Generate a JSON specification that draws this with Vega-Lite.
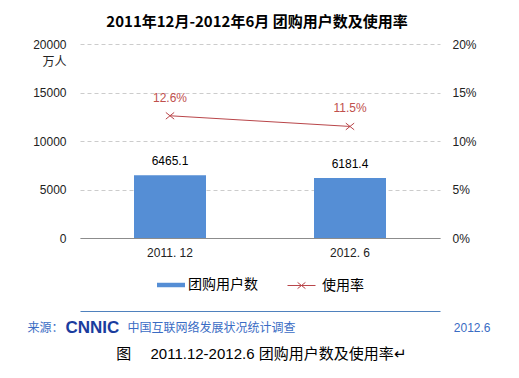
{
  "$schema": "https://vega.github.io/schema/vega-lite/v6.json",
  "width": 360,
  "height": 194,
  "autosize": {"type": "none"},
  "padding": {"left": 80, "top": 44, "right": 79, "bottom": 140},
  "background": "white",
  "title": {
    "text": "2011年12月-2012年6月 团购用户数及使用率",
    "font": "Noto Sans CJK SC",
    "fontSize": 15,
    "fontWeight": "bold",
    "color": "#000000",
    "anchor": "middle",
    "offset": 8,
    "dx": -3
  },
  "config": {
    "view": {"stroke": null},
    "axis": {"labelColor": "#222222", "titleColor": "#222222"}
  },
  "data": {
    "values": [
      {"period": "2011. 12", "users": 6465.1, "rate": 0.126},
      {"period": "2012. 6", "users": 6181.4, "rate": 0.115}
    ]
  },
  "layer": [
    {
      "mark": {"type": "bar"},
      "encoding": {
        "x": {
          "field": "period", "type": "nominal", "sort": null,
          "scale": {"paddingInner": 0.6, "paddingOuter": 0.3},
          "axis": {
            "orient": "bottom", "labelAngle": 0, "labelFont": "Liberation Sans", "labelFontSize": 12,
            "labelPadding": 9, "ticks": false, "domain": true, "domainColor": "#8c8c8c", "grid": false,
            "title": "图　  2011.12-2012.6 团购用户数及使用率↵",
            "titleX": 181, "titleY": 115, "titleAlign": "center", "titleBaseline": "middle",
            "titleFont": "Liberation Sans, Noto Sans CJK SC", "titleFontSize": 15, "titleFontWeight": "normal", "titleColor": "#000000"
          }
        },
        "y": {
          "field": "users", "type": "quantitative",
          "scale": {"domain": [0, 20000]},
          "axis": {
            "orient": "left", "values": [0, 5000, 10000, 15000, 20000], "format": "d",
            "grid": true, "gridDash": [4, 3], "gridColor": "#cccccc", "domain": false, "ticks": false,
            "labelPadding": 14, "labelFont": "Liberation Sans", "labelFontSize": 12,
            "title": "万人", "titleAngle": 0, "titleX": -14, "titleY": 17, "titleAlign": "right",
            "titleBaseline": "middle", "titleFont": "Noto Sans CJK SC", "titleFontSize": 12, "titleFontWeight": "normal"
          }
        },
        "color": {
          "datum": "团购用户数",
          "scale": {"range": ["#558ED5"]},
          "legend": {
            "orient": "none", "legendX": 77, "legendY": 227, "direction": "horizontal", "title": null,
            "symbolType": "M-1,-0.16H1V0.16H-1Z", "symbolSize": 784, "symbolStrokeWidth": 0,
            "labelFont": "Noto Sans CJK SC", "labelFontSize": 14, "labelColor": "#000000", "labelOffset": 3, "padding": 0
          }
        }
      }
    },
    {
      "mark": {"type": "text", "font": "Liberation Sans", "fontSize": 12, "color": "#000000", "baseline": "alphabetic", "dy": -10},
      "encoding": {
        "x": {
          "field": "period", "type": "nominal", "sort": null,
          "scale": {"paddingInner": 0.6, "paddingOuter": 0.3},
          "axis": {
            "orient": "bottom", "labels": false, "ticks": false, "domain": false, "grid": false,
            "title": "中国互联网络发展状况统计调查",
            "titleX": 47, "titleY": 89, "titleAlign": "left", "titleBaseline": "middle",
            "titleFont": "Noto Sans CJK SC", "titleFontSize": 12, "titleFontWeight": "normal", "titleColor": "#3A6CC4"
          }
        },
        "y": {"field": "users", "type": "quantitative", "scale": {"domain": [0, 20000]}, "axis": null},
        "text": {"field": "users", "type": "quantitative", "format": ".1f"}
      }
    },
    {
      "mark": {"type": "line", "strokeWidth": 1},
      "encoding": {
        "x": {
          "field": "period", "type": "nominal", "sort": null,
          "scale": {"paddingInner": 0.6, "paddingOuter": 0.3},
          "axis": {
            "orient": "bottom", "offset": 73, "labels": false, "ticks": false, "domain": true,
            "domainColor": "#4F81BD", "domainWidth": 1, "grid": false,
            "title": "来源：",
            "titleX": -53, "titleY": 16, "titleAlign": "left", "titleBaseline": "middle",
            "titleFont": "Noto Sans CJK SC", "titleFontSize": 12, "titleFontWeight": "normal", "titleColor": "#3A6CC4"
          }
        },
        "y": {
          "field": "rate", "type": "quantitative",
          "scale": {"domain": [0, 0.2]},
          "axis": {
            "orient": "right", "values": [0, 0.05, 0.1, 0.15, 0.2], "format": ".0%",
            "grid": false, "domain": false, "ticks": false, "labelPadding": 12,
            "labelFont": "Liberation Sans", "labelFontSize": 12, "title": null
          }
        },
        "color": {
          "datum": "使用率",
          "scale": {"range": ["#B9464A"]},
          "legend": {
            "orient": "none", "legendX": 207, "legendY": 227, "direction": "horizontal", "title": null,
            "symbolType": "M-1,0H1M-0.28,-0.22L0.28,0.22M-0.28,0.22L0.28,-0.22", "symbolSize": 784,
            "symbolStrokeWidth": 1, "symbolFillColor": "transparent",
            "labelFont": "Noto Sans CJK SC", "labelFontSize": 14, "labelColor": "#000000", "labelOffset": 6, "padding": 0
          }
        }
      }
    },
    {
      "mark": {"type": "point", "shape": "M-1,-0.8L1,0.8M-1,0.8L1,-0.8", "filled": false, "size": 70, "strokeWidth": 1, "color": "#B9464A", "opacity": 1},
      "encoding": {
        "x": {
          "field": "period", "type": "nominal", "sort": null,
          "scale": {"paddingInner": 0.6, "paddingOuter": 0.3},
          "axis": {
            "orient": "bottom", "labels": false, "ticks": false, "domain": false, "grid": false,
            "title": "CNNIC",
            "titleX": -15, "titleY": 89, "titleAlign": "left", "titleBaseline": "middle",
            "titleFont": "Liberation Sans", "titleFontSize": 17, "titleFontWeight": "bold", "titleColor": "#1A3C9E"
          }
        },
        "y": {"field": "rate", "type": "quantitative", "scale": {"domain": [0, 0.2]}, "axis": null}
      }
    },
    {
      "mark": {"type": "text", "font": "Liberation Sans", "fontSize": 12, "color": "#C0504D", "baseline": "alphabetic", "dy": -14},
      "encoding": {
        "x": {
          "field": "period", "type": "nominal", "sort": null,
          "scale": {"paddingInner": 0.6, "paddingOuter": 0.3},
          "axis": {
            "orient": "bottom", "labels": false, "ticks": false, "domain": false, "grid": false,
            "title": "2012.6",
            "titleX": 410, "titleY": 89, "titleAlign": "right", "titleBaseline": "middle",
            "titleFont": "Liberation Sans", "titleFontSize": 12, "titleFontWeight": "normal", "titleColor": "#3A6CC4"
          }
        },
        "y": {"field": "rate", "type": "quantitative", "scale": {"domain": [0, 0.2]}, "axis": null},
        "text": {"field": "rate", "type": "quantitative", "format": ".1%"}
      }
    }
  ],
  "resolve": {"scale": {"y": "independent", "color": "independent"}, "axis": {"x": "independent", "y": "independent"}}
}
